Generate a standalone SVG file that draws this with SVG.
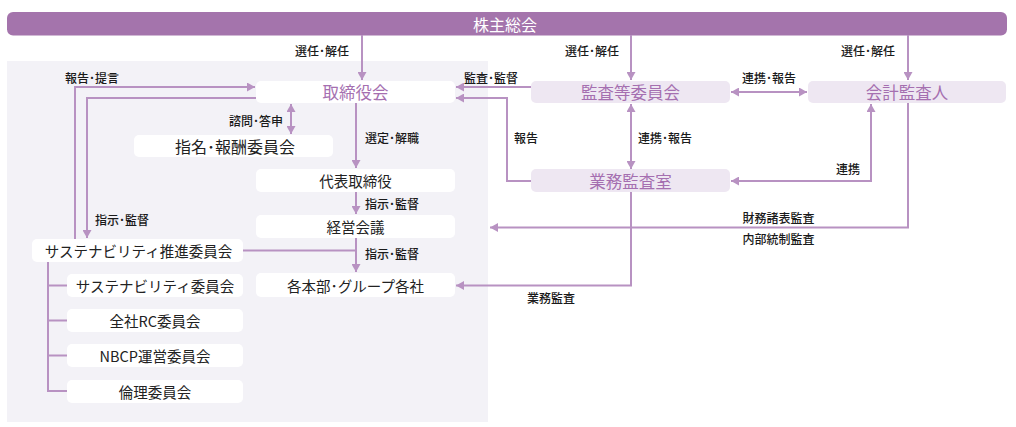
<svg xmlns="http://www.w3.org/2000/svg" width="1016" height="427" viewBox="0 0 1016 427">
<defs>
<style>
text{font-family:"Noto Sans CJK JP","Noto Sans",sans-serif;dominant-baseline:central;text-anchor:middle}
.lbl{font-size:12px;fill:#1a1a1a;font-weight:500}
.nt{font-size:14.5px;fill:#222}
.pt{font-size:16.5px;fill:#a56fb0}
.wb{fill:#ffffff}
.lb{fill:#eee7f2}
.cn{fill:none;stroke:#b892c2;stroke-width:2}
</style>
<marker id="ah" viewBox="0 0 8 9" refX="8" refY="4.5" markerWidth="8" markerHeight="9" markerUnits="userSpaceOnUse" orient="auto-start-reverse">
<path d="M0,0 L8,4.5 L0,9 z" fill="#b892c2"/>
</marker>
</defs>
<rect x="0" y="0" width="1016" height="427" fill="#ffffff"/>
<rect x="7" y="61" width="481" height="361" fill="#f3f2f7"/>
<g id="bar">
<rect x="7" y="12" width="1000" height="23.5" rx="6" fill="#a474ac"/>
<text x="505" y="24" style="font-size:16px;fill:#ffffff">株主総会</text>
</g>
<g id="connectors">
<path class="cn" d="M362,35 V80" marker-end="url(#ah)"/>
<path class="cn" d="M631,35 V80" marker-end="url(#ah)"/>
<path class="cn" d="M908,35 V80" marker-end="url(#ah)"/>
<path class="cn" d="M531,87 H456" marker-end="url(#ah)"/>
<path class="cn" d="M531,181 H507 V98 H456" marker-end="url(#ah)"/>
<path class="cn" d="M731,92 H807" marker-start="url(#ah)" marker-end="url(#ah)"/>
<path class="cn" d="M631,104 V169" marker-start="url(#ah)" marker-end="url(#ah)"/>
<path class="cn" d="M871,104 V181 H731" marker-start="url(#ah)" marker-end="url(#ah)"/>
<path class="cn" d="M908,103 V227.5 H490" marker-end="url(#ah)"/>
<path class="cn" d="M631,192 V285.5 H456" marker-end="url(#ah)"/>
<path class="cn" d="M291,104 V134" marker-start="url(#ah)" marker-end="url(#ah)"/>
<path class="cn" d="M356,103 V168" marker-end="url(#ah)"/>
<path class="cn" d="M356,192 V214" marker-end="url(#ah)"/>
<path class="cn" d="M356,238 V272" marker-end="url(#ah)"/>
<path class="cn" d="M243,250.5 H356"/>
<path class="cn" d="M75,239 V87 H255" marker-end="url(#ah)"/>
<path class="cn" d="M256,98 H87 V238" marker-end="url(#ah)"/>
<path class="cn" d="M48,262 V391 H67 M48,285.5 H67 M48,320.5 H67 M48,355.5 H67"/>
</g>
<g id="labels">
<text class="lbl" x="322" y="50">選任･解任</text>
<text class="lbl" x="592" y="50">選任･解任</text>
<text class="lbl" x="868" y="50">選任･解任</text>
<text class="lbl" x="92" y="77">報告･提言</text>
<text class="lbl" x="491" y="77">監査･監督</text>
<text class="lbl" x="769" y="77">連携･報告</text>
<text class="lbl" x="526" y="137">報告</text>
<text class="lbl" x="665" y="137">連携･報告</text>
<text class="lbl" x="848" y="168">連携</text>
<text class="lbl" x="778.5" y="217">財務諸表監査</text>
<text class="lbl" x="778.5" y="238">内部統制監査</text>
<text class="lbl" x="551" y="297">業務監査</text>
<text class="lbl" x="256" y="120">諮問･答申</text>
<text class="lbl" x="365" y="137" style="text-anchor:start">選定･解職</text>
<text class="lbl" x="365" y="203" style="text-anchor:start">指示･監督</text>
<text class="lbl" x="365" y="253" style="text-anchor:start">指示･監督</text>
<text class="lbl" x="122" y="219">指示･監督</text>
</g>
<g id="torishimariyakukai"><rect class="wb" x="256" y="81" width="199" height="22" rx="5"/><text class="pt" x="355.5" y="92">取締役会</text></g>
<g id="shimei"><rect class="wb" x="134" y="135" width="199" height="22" rx="5"/><text class="nt" x="235" y="146" style="font-size:16px">指名･報酬委員会</text></g>
<g id="daihyo"><rect class="wb" x="256" y="169" width="199" height="23" rx="5"/><text class="nt" x="355.5" y="180.5">代表取締役</text></g>
<g id="keiei"><rect class="wb" x="256" y="215" width="199" height="23" rx="5"/><text class="nt" x="355.5" y="226.5">経営会議</text></g>
<g id="kakuhonbu"><rect class="wb" x="256" y="273" width="199" height="24" rx="5"/><text class="nt" x="355.5" y="285">各本部･グループ各社</text></g>
<g id="sus-suishin"><rect class="wb" x="32" y="239" width="211" height="23" rx="5"/><text class="nt" x="138.5" y="250.5">サステナビリティ推進委員会</text></g>
<g id="sus"><rect class="wb" x="67" y="274" width="176" height="23" rx="5"/><text class="nt" x="155" y="285.5">サステナビリティ委員会</text></g>
<g id="rc"><rect class="wb" x="67" y="309" width="176" height="23" rx="5"/><text class="nt" x="155" y="320.5">全社RC委員会</text></g>
<g id="nbcp"><rect class="wb" x="67" y="344" width="176" height="23" rx="5"/><text class="nt" x="155" y="355.5">NBCP運営委員会</text></g>
<g id="rinri"><rect class="wb" x="67" y="380" width="176" height="23" rx="5"/><text class="nt" x="155" y="391.5">倫理委員会</text></g>
<g id="kansa"><rect class="lb" x="531" y="81" width="199" height="22" rx="5"/><text class="pt" x="630.5" y="92">監査等委員会</text></g>
<g id="kaikei"><rect class="lb" x="808" y="81" width="198" height="22" rx="5"/><text class="pt" x="907" y="92">会計監査人</text></g>
<g id="gyomu"><rect class="lb" x="531" y="169" width="199" height="23" rx="5"/><text class="pt" x="630.5" y="180.5">業務監査室</text></g>
</svg>
